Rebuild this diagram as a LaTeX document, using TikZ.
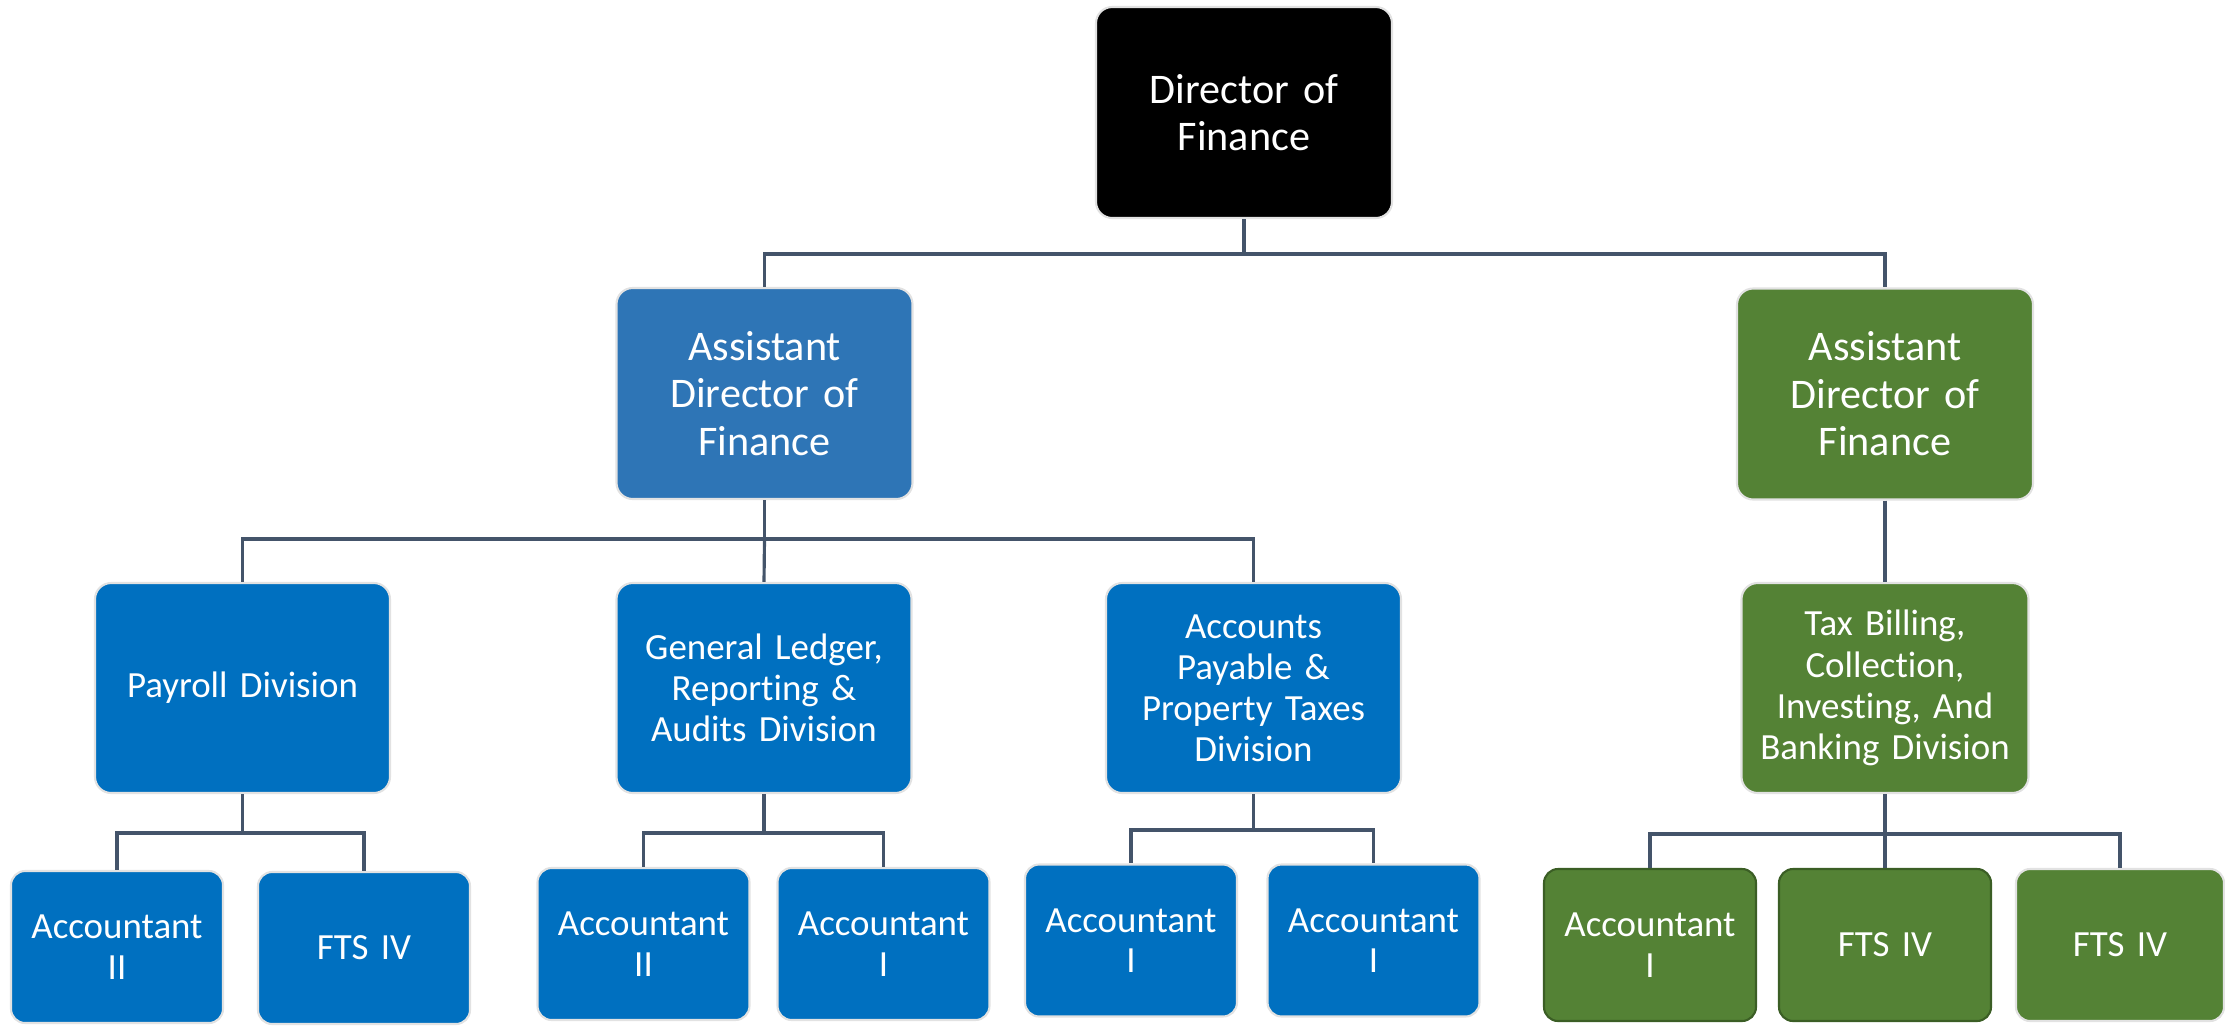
\documentclass[tikz,border=0pt]{standalone}
\usepackage{fontspec}
\setmainfont[Ligatures=NoCommon]{Carlito}
\usepackage{xcolor}
\usepackage{tikz}
\usetikzlibrary{calc}
\definecolor{boss}{HTML}{000000}
\definecolor{asstblue}{HTML}{2E75B6}
\definecolor{divblue}{HTML}{0070C0}
\definecolor{divgreen}{HTML}{548235}
\definecolor{edge}{HTML}{E2E2E2}
\definecolor{greenedge}{HTML}{3B5E25}
\definecolor{wire}{HTML}{44546A}
\tikzset{
  box/.style={draw=edge, line width=0.6pt, rounded corners=4.6pt, text=white,
    align=center, inner sep=0pt},
  big/.style={box, minimum width=2.96cm, minimum height=2.11cm, text width=2.7cm,
    font=\fontsize{12}{13.5}\selectfont},
  div/.style={box, fill=divblue, minimum width=2.95cm, minimum height=2.10cm,
    text width=2.7cm, font=\fontsize{10.5}{11.7}\selectfont},
  staff/.style={box, fill=divblue, minimum width=2.12cm, minimum height=1.52cm,
    text width=1.95cm, font=\fontsize{10.5}{11.5}\selectfont, rounded corners=4pt},
  link/.style={draw=wire, line width=0.9pt},
}

\begin{document}
\begin{tikzpicture}
  \useasboundingbox (0,0) rectangle (22.25,-10.27);
  % top
  \node[big, fill=boss] (dir) at (12.44,-1.125) {Director of\\Finance};
  \node[big, fill=asstblue] (adb) at (7.645,-3.935) {Assistant\\Director of\\Finance};
  \node[big, fill=divgreen] (adg) at (18.85,-3.94) {Assistant\\Director of\\Finance};
  \coordinate (j1) at (12.44,-2.54);
  \draw[link] (dir.south) -- (j1) -| (adb.north);
  \draw[link] (j1) -| (adg.north);
  % divisions
  \node[div] (pay) at (2.425,-6.88) {Payroll Division};
  \node[div] (gl) at (7.64,-6.88) {General Ledger,\\Reporting \&\\Audits Division};
  \node[div] (ap) at (12.535,-6.88) {Accounts\\Payable \&\\Property Taxes\\Division};
  \node[div, fill=divgreen, minimum width=2.87cm] (tax) at (18.85,-6.88)
    {Tax Billing,\\Collection,\\Investing, And\\Banking Division};
  \coordinate (j2) at (7.645,-5.39);
  \draw[link] (adb.south) -- (j2) -| (pay.north);
  \draw[link] (j2) -- (gl.north);
  \draw[link] (j2) -| (ap.north);
  \draw[link] (adg.south) -- (tax.north);
  % staff
  \node[staff] (pay1) at (1.17,-9.47) {Accountant\\II};
  \node[staff] (pay2) at (3.64,-9.48) {FTS IV};
  \node[staff] (gl1) at (6.435,-9.44) {Accountant\\II};
  \node[staff] (gl2) at (8.835,-9.44) {Accountant\\I};
  \node[staff] (ap1) at (11.31,-9.405) {Accountant\\I};
  \node[staff] (ap2) at (13.735,-9.405) {Accountant\\I};
  \node[staff, fill=divgreen, draw=greenedge] (tax1) at (16.5,-9.45) {Accountant\\I};
  \node[staff, fill=divgreen, draw=greenedge] (tax2) at (18.85,-9.45) {FTS IV};
  \node[staff, fill=divgreen, minimum width=2.08cm] (tax3) at (21.2,-9.45) {FTS IV};
  \coordinate (j3) at (2.425,-8.33);
  \draw[link] (pay.south) -- (j3) -| (pay1.north);
  \draw[link] (j3) -| (pay2.north);
  \coordinate (j4) at (7.64,-8.33);
  \draw[link] (gl.south) -- (j4) -| (gl1.north);
  \draw[link] (j4) -| (gl2.north);
  \coordinate (j5) at (12.535,-8.30);
  \draw[link] (ap.south) -- (j5) -| (ap1.north);
  \draw[link] (j5) -| (ap2.north);
  \coordinate (j6) at (18.85,-8.34);
  \draw[link] (tax.south) -- (j6) -| (tax1.north);
  \draw[link] (j6) -- (tax2.north);
  \draw[link] (j6) -| (tax3.north);
\end{tikzpicture}
\end{document}
